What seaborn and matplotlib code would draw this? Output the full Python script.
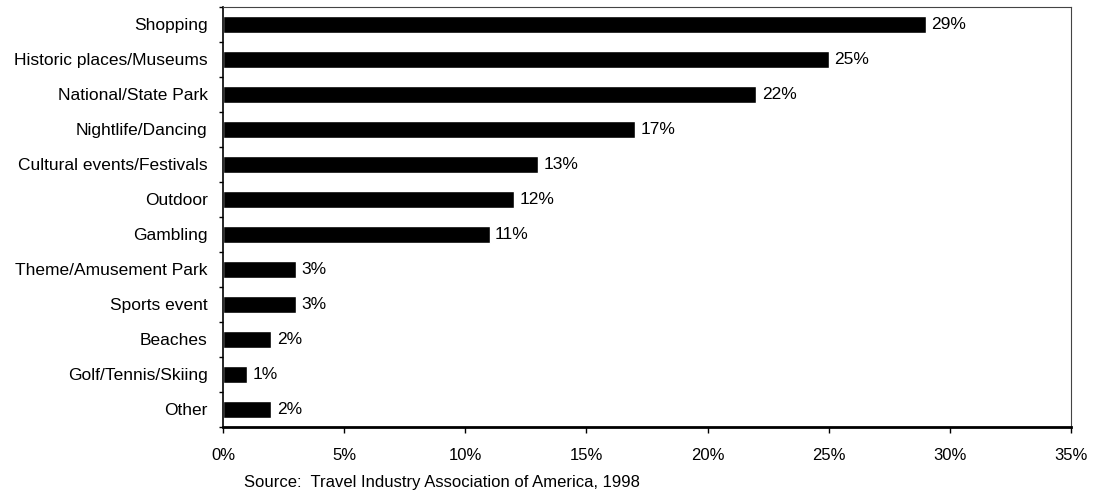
import matplotlib
matplotlib.use("Agg")
import matplotlib.pyplot as plt
import pandas as pd
import seaborn as sns

# Data
activities = ["Shopping", "Historic places/Museums", "National/State Park", "Nightlife/Dancing",
              "Cultural events/Festivals", "Outdoor", "Gambling", "Theme/Amusement Park",
              "Sports event", "Beaches", "Golf/Tennis/Skiing", "Other"]
percent = [29, 25, 22, 17, 13, 12, 11, 3, 3, 2, 1, 2]
x_ticks = [0, 5, 10, 15, 20, 25, 30, 35]

df = pd.DataFrame({"activity": activities, "pct": percent})

sns.set_style("ticks")
plt.rcParams["font.family"] = ["Liberation Sans", "DejaVu Sans"]
plt.rcParams["text.color"] = "black"
plt.rcParams["xtick.color"] = "black"
plt.rcParams["ytick.color"] = "black"

fig = plt.figure(figsize=(10.93, 4.93), dpi=100)
ax = fig.add_axes([0.204, 0.134, 0.776, 0.852])

sns.barplot(data=df, y="activity", x="pct", orient="h", color="black",
            width=0.5, ax=ax, saturation=1)

for p, v in zip(ax.patches, percent):
    ax.annotate(f"{v}%", (p.get_width(), p.get_y() + p.get_height() / 2),
                xytext=(4, 0), textcoords="offset points",
                va="center", ha="left", fontsize=12.5)

ax.set_xlim(0, 35)
ax.set_ylim(len(activities) - 0.5, -0.5)
ax.set_xticks(x_ticks)
ax.set_xticklabels([f"{t}%" for t in x_ticks], fontsize=12)
ax.tick_params(axis="x", direction="out", length=4, width=1, pad=11)
ax.tick_params(axis="y", which="major", length=0, labelsize=12.5, pad=11)
ax.set_yticks([i + 0.5 for i in range(-1, len(activities))], minor=True)
ax.tick_params(axis="y", which="minor", direction="out", length=3, width=1)
ax.set_xlabel("")
ax.set_ylabel("")

for side in ["top", "right"]:
    ax.spines[side].set_linewidth(0.8)
    ax.spines[side].set_color("#444444")
ax.spines["bottom"].set_linewidth(2)
ax.spines["bottom"].set_color("black")
ax.spines["left"].set_linewidth(1.2)
ax.spines["left"].set_color("black")

fig.text(0.404, 0.022, "Source:  Travel Industry Association of America, 1998",
         ha="center", va="center", fontsize=12)

fig.savefig("out.png", dpi=100)
